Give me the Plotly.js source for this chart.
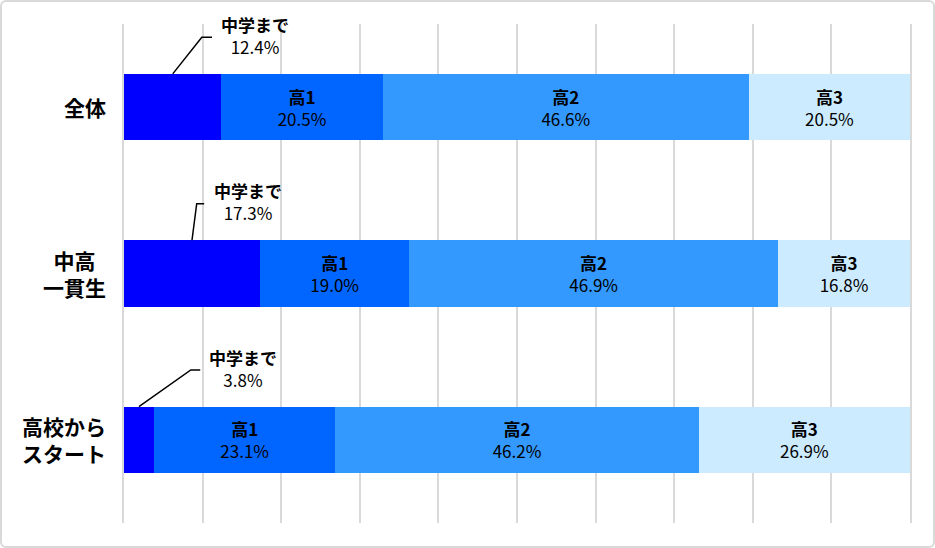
<!DOCTYPE html>
<html>
<head>
<meta charset="utf-8">
<script src="https://cdn.plot.ly/plotly-3.0.1.min.js"></script>
<style>
  html,body{margin:0;padding:0;background:#fff;}
  #wrap{position:relative;width:935px;height:548px;}
  #chart{width:935px;height:548px;}
  #frame{position:absolute;left:0;top:0;width:931px;height:544px;border:2px solid #d9d9d9;border-radius:6px;pointer-events:none;}
</style>
</head>
<body>
<div id="wrap"><div id="chart"></div><div id="frame"></div></div>
<script>
  // --------- Datos ---------
  const groups   = ['全体', '中高<br>一貫生', '高校から<br>スタート'];
  const segNames = ['中学まで', '高1', '高2', '高3'];
  const chugaku  = [12.4, 17.3, 3.8];
  const kou1     = [20.5, 19.0, 23.1];
  const kou2     = [46.6, 46.9, 46.2];
  const kou3     = [20.5, 16.8, 26.9];
  const colors   = ['#0000FF', '#0066FF', '#3399FF', '#CCEBFF'];

  // posición de las líneas guía (en % del eje x) para "中学まで"
  const elbowX = [9.9, 9.25, 8.5];
  const endX   = [11.2, 10.2, 9.7];
  const labelX = [16.7, 15.8, 15.1];

  const FONT = '"Noto Sans CJK JP", "Noto Sans", sans-serif';
  const pct  = v => v.toFixed(1) + '%';
  const rows = groups.map((_, i) => i);

  const series = [chugaku, kou1, kou2, kou3];
  const traces = series.map((vals, k) => ({
    type: 'bar', orientation: 'h', name: segNames[k],
    x: vals, y: rows, width: 0.4,
    marker: {color: colors[k], line: {width: 0}},
    text: k === 0 ? vals.map(() => '') : vals.map(v => `<b>${segNames[k]}</b><br>${pct(v)}`),
    textposition: k === 0 ? 'none' : 'inside',
    insidetextanchor: 'middle', textangle: 0,
    textfont: {family: FONT, size: 17, color: '#000'},
    hoverinfo: 'skip'
  }));

  // líneas guía
  const lx = [], ly = [];
  rows.forEach(i => {
    lx.push(chugaku[i] / 2, elbowX[i], endX[i], null);
    ly.push(i - 0.2, i - 0.42, i - 0.42, null);
  });
  traces.push({
    type: 'scatter', mode: 'lines', x: lx, y: ly,
    line: {color: '#000', width: 1.5}, hoverinfo: 'skip', cliponaxis: false
  });

  const annotations = [];
  rows.forEach(i => {
    annotations.push({
      xref: 'x', yref: 'y', x: labelX[i], y: i - 0.43,
      text: `<b>${segNames[0]}</b><br>${pct(chugaku[i])}`,
      showarrow: false, align: 'center',
      font: {family: FONT, size: 17, color: '#000'}
    });
    annotations.push({
      xref: 'paper', yref: 'y', x: 0, y: i, xanchor: 'right', xshift: -16,
      text: `<b>${groups[i]}</b>`, showarrow: false, align: 'center',
      font: {family: FONT, size: 21, color: '#000'}
    });
  });

  const layout = {
    width: 935, height: 548,
    margin: {l: 124, r: 25, t: 24, b: 25},
    paper_bgcolor: '#fff', plot_bgcolor: '#fff',
    barmode: 'stack', showlegend: false, hovermode: false,
    xaxis: {range: [0, 100], dtick: 10, showgrid: true, gridcolor: '#d9d9d9', gridwidth: 2,
            zeroline: false, showticklabels: false, ticks: '', fixedrange: true},
    yaxis: {range: [2.5, -0.5], showgrid: false, zeroline: false, showticklabels: false,
            showline: true, mirror: true, linecolor: '#d9d9d9', linewidth: 2,
            ticks: '', fixedrange: true},
    annotations: annotations
  };

  Plotly.newPlot('chart', traces, layout, {displayModeBar: false, staticPlot: true});
</script>
</body>
</html>
